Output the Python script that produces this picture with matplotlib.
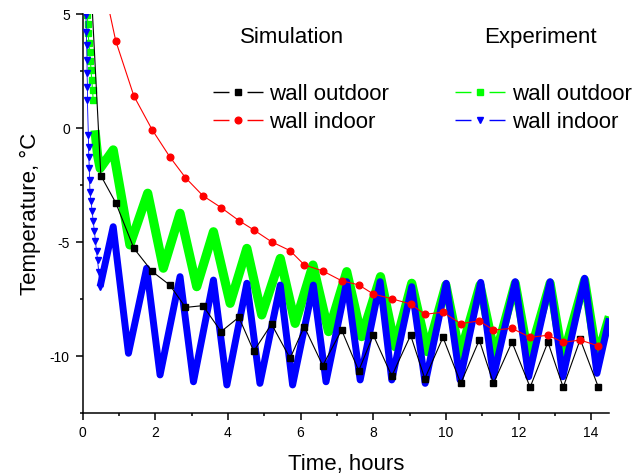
import matplotlib
matplotlib.use('Agg')
import matplotlib.pyplot as plt
from matplotlib.lines import Line2D
from matplotlib.legend_handler import HandlerTuple
from matplotlib.ticker import MultipleLocator

plt.rcParams['font.family'] = ['Liberation Sans', 'DejaVu Sans']
plt.rcParams['axes.unicode_minus'] = False

# ---- Simulation data ----
sim_time = [0.0, 0.50, 0.91, 1.41, 1.91, 2.40, 2.83, 3.31, 3.81, 4.30, 4.71, 5.20,
            5.71, 6.10, 6.61, 7.13, 7.60, 8.00, 8.51, 9.03, 9.42, 9.92, 10.41, 10.92,
            11.31, 11.82, 12.32, 12.81, 13.23, 13.70, 14.20]
sim_wall_outdoor = [13.3, -2.09, -3.28, -5.28, -6.29, -6.89, -7.87, -7.79, -8.93, -8.30,
                    -9.79, -8.60, -10.10, -8.71, -10.42, -8.86, -10.65, -9.08, -10.88,
                    -9.09, -11.0, -9.18, -11.20, -9.30, -11.20, -9.39, -11.37, -9.39,
                    -11.37, -9.27, -11.37]
sim_wall_indoor = [12.0, 6.85, 3.82, 1.40, -0.07, -1.27, -2.18, -2.97, -3.49, -4.06,
                   -4.47, -4.99, -5.38, -6.00, -6.27, -6.70, -6.88, -7.28, -7.49, -7.72,
                   -8.17, -8.08, -8.58, -8.46, -8.86, -8.79, -9.18, -9.09, -9.40, -9.30,
                   -9.56]

# ---- Experiment data ----
exp_out_time = [0.13, 0.14, 0.15, 0.17, 0.19, 0.21, 0.23, 0.25, 0.27, 0.29, 0.34, 0.37,
                0.41, 0.48, 0.84, 1.30, 1.79, 2.22, 2.68, 3.14, 3.60, 4.06, 4.52, 4.93,
                5.44, 5.85, 6.34, 6.77, 7.27, 7.68, 8.20, 8.60, 9.06, 9.49, 10.00, 10.39,
                10.94, 11.36, 11.91, 12.28, 12.87, 13.22, 13.82, 14.16, 14.50]
exp_out_temp = [4.96, 4.56, 4.15, 3.74, 3.35, 2.94, 2.54, 2.11, 1.67, 1.23, -0.10, -0.60,
                -1.20, -1.77, -0.96, -5.13, -2.86, -6.15, -3.74, -6.96, -4.55, -7.69,
                -5.28, -8.20, -5.72, -8.57, -6.01, -8.93, -6.30, -9.15, -6.52, -9.59,
                -6.81, -9.81, -6.89, -9.96, -6.89, -10.03, -6.81, -10.10, -6.81, -10.10,
                -6.67, -10.10, -8.27]
exp_in_time = [0.09, 0.10, 0.11, 0.12, 0.12, 0.13, 0.13, 0.155, 0.16, 0.17, 0.18, 0.19,
               0.20, 0.23, 0.26, 0.29, 0.32, 0.35, 0.38, 0.41, 0.44, 0.48, 0.84, 1.26,
               1.76, 2.13, 2.68, 3.05, 3.60, 3.97, 4.52, 4.88, 5.44, 5.78, 6.35, 6.70,
               7.27, 7.64, 8.19, 8.51, 9.06, 9.43, 10.01, 10.39, 10.96, 11.31, 11.91,
               12.28, 12.87, 13.22, 13.82, 14.16, 14.50]
exp_in_temp = [4.96, 4.22, 3.64, 2.98, 2.40, 1.81, 1.23, -0.31, -0.82, -1.29, -1.77, -2.28,
               -2.79, -3.20, -3.65, -4.10, -4.50, -4.95, -5.40, -5.80, -6.30, -6.96, -4.33,
               -9.88, -6.15, -10.83, -6.52, -11.13, -6.67, -11.27, -6.81, -11.20, -6.89,
               -11.27, -6.89, -11.13, -6.74, -11.05, -6.74, -11.05, -6.96, -11.20, -6.81,
               -11.05, -6.77, -10.91, -6.74, -10.91, -6.74, -10.91, -6.59, -10.76, -8.35]

out_band_start = 10   # index where the dense record forms a continuous band
in_band_start = 21

GREEN = '#00ff00'
BLUE = '#0000ff'
RED = '#ff0000'
BLACK = '#000000'

fig = plt.figure(figsize=(6.37, 4.76), dpi=100)
ax = fig.add_axes([82.7 / 637, 1 - 413 / 476, (609.3 - 82.7) / 637, (413 - 14) / 476])

# experiment outdoor (green)
ax.plot(exp_out_time[:out_band_start], exp_out_temp[:out_band_start], color=GREEN,
        lw=0.8, marker='s', ms=4.5, mec=GREEN, mfc=GREEN, zorder=2)
ax.plot(exp_out_time[out_band_start:], exp_out_temp[out_band_start:], color=GREEN,
        lw=6.6, solid_joinstyle='round', solid_capstyle='butt', zorder=2)
# experiment indoor (blue)
ax.plot(exp_in_time[:in_band_start + 1], exp_in_temp[:in_band_start + 1], color=BLUE,
        lw=0.6, marker='v', ms=5, mec=BLUE, mfc=BLUE, zorder=3)
ax.plot(exp_in_time[in_band_start:], exp_in_temp[in_band_start:], color=BLUE,
        lw=5.0, solid_joinstyle='round', solid_capstyle='butt', zorder=3)
# simulation
ax.plot(sim_time, sim_wall_outdoor, color=BLACK, lw=0.8, marker='s', ms=4.0, zorder=4)
ax.plot(sim_time, sim_wall_indoor, color=RED, lw=0.8, marker='o', ms=4.8, zorder=5)

ax.set_xlim(0, 14.5)
ax.set_ylim(-12.5, 5)
ax.xaxis.set_major_locator(MultipleLocator(2))
ax.xaxis.set_minor_locator(MultipleLocator(1))
ax.yaxis.set_major_locator(MultipleLocator(5))
ax.yaxis.set_minor_locator(MultipleLocator(2.5))
for s in ['top', 'right']:
    ax.spines[s].set_visible(False)
for s in ['left', 'bottom']:
    ax.spines[s].set_linewidth(1.1)
ax.tick_params(which='major', direction='out', length=4.8, width=1.1, labelsize=10, pad=4.5)
ax.tick_params(which='minor', direction='out', length=2.4, width=1.1)

ax.set_xlabel('Time, hours', fontsize=16, labelpad=10)
ax.set_ylabel('Temperature, \u00b0C', fontsize=16, labelpad=6.5)

# legends
def handle(color, marker, ms):
    ln = Line2D([], [], color=color, lw=1.0, linestyle=(0, (11.5, 13)))
    mk = Line2D([], [], color=color, marker=marker, ms=ms, linestyle='none')
    return (ln, mk)

sim_handles = [handle(BLACK, 's', 4.0), handle(RED, 'o', 4.8)]
exp_handles = [handle(GREEN, 's', 4.5), handle(BLUE, 'v', 5)]
labels = ['wall outdoor', 'wall indoor']

common = dict(frameon=False, fontsize=16, handlelength=2.25, handletextpad=0.3,
              labelspacing=0.32, borderpad=0, borderaxespad=0, loc='upper left',
              bbox_transform=fig.transFigure,
              handler_map={tuple: HandlerTuple(ndivide=1, pad=0)})
leg1 = ax.legend(sim_handles, labels, bbox_to_anchor=(212.7 / 637, 1 - 84 / 476), **common)
ax.add_artist(leg1)
leg2 = ax.legend(exp_handles, labels, bbox_to_anchor=(455 / 637, 1 - 84 / 476), **common)

fig.text(292 / 637, 1 - 38 / 476, 'Simulation', fontsize=16, ha='center', va='center')
fig.text(540 / 637, 1 - 38 / 476, 'Experiment', fontsize=16, ha='center', va='center')

fig.savefig('out.png', dpi=100)
